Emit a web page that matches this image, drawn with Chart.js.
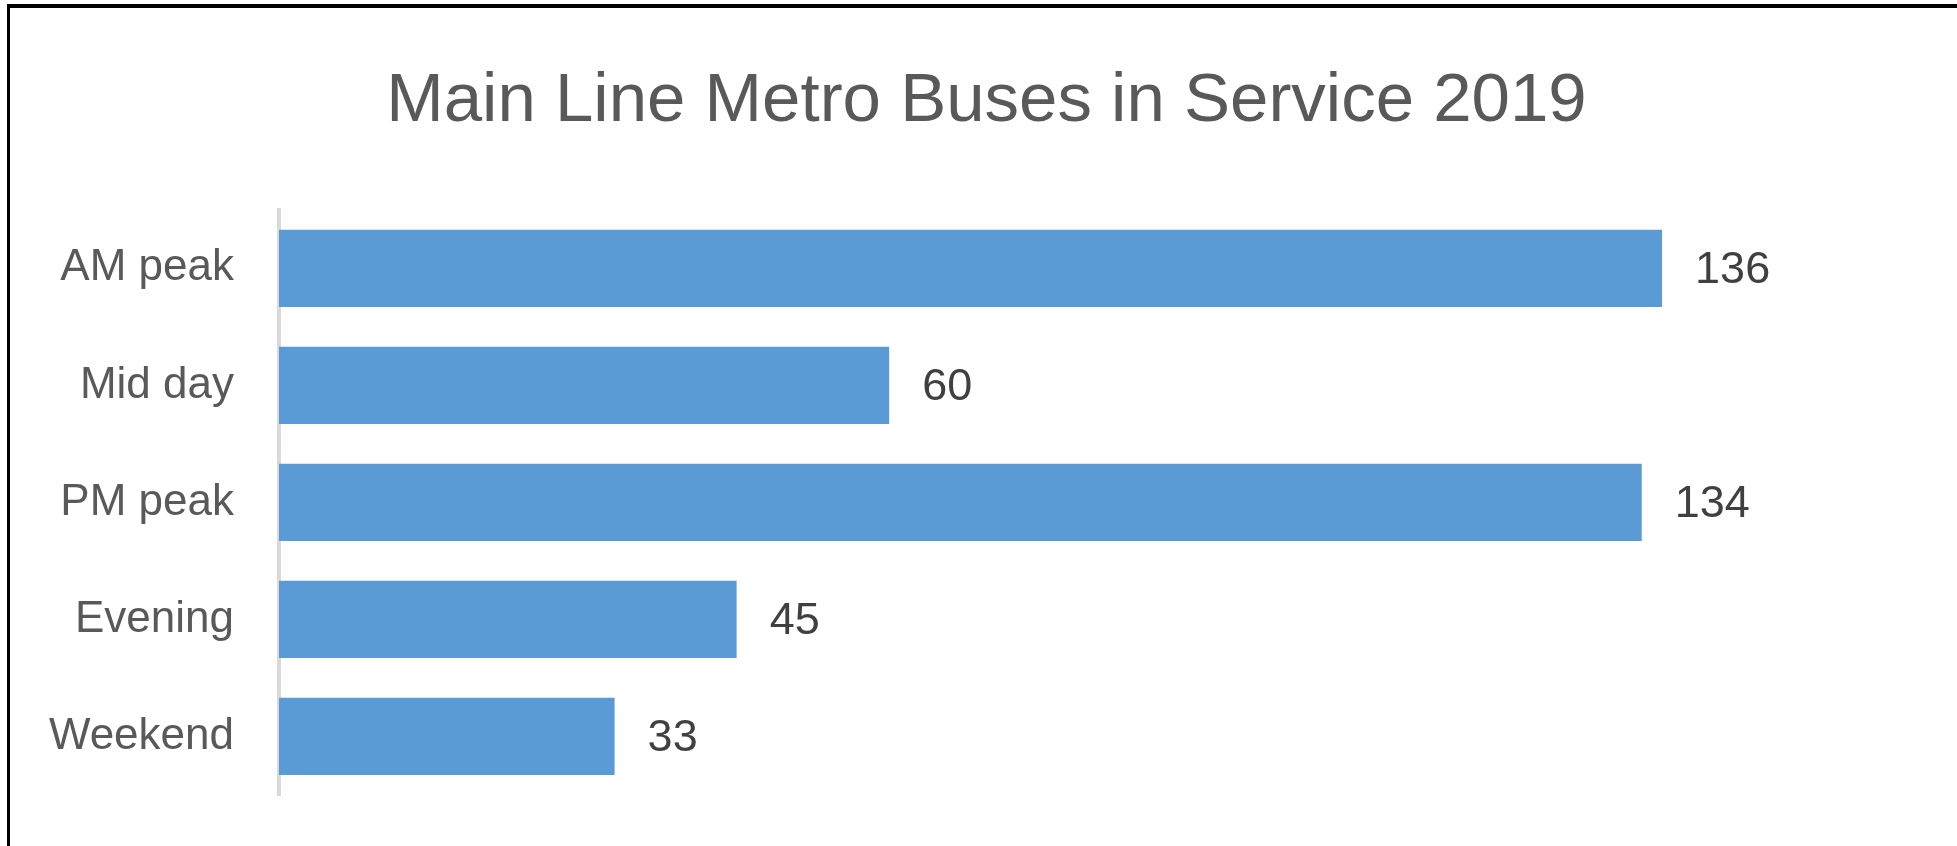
<!DOCTYPE html>
<html>
<head>
<meta charset="utf-8">
<script src="https://cdn.jsdelivr.net/npm/chart.js@4"></script>
<style>
  html, body { margin: 0; padding: 0; background: #fff; }
  #wrap { position: relative; width: 1957px; height: 846px; overflow: hidden; }
  #frame { position: absolute; left: 7px; top: 4px; right: -10px; bottom: -10px;
           border-top: 4px solid #000; border-left: 3px solid #000; }
  canvas { position: absolute; left: 0; top: 0; }
</style>
</head>
<body>
<div id="wrap">
  <div id="frame"></div>
  <canvas id="chart" width="1957" height="846"></canvas>
</div>
<script>
// values
const categories = ['AM peak', 'Mid day', 'PM peak', 'Evening', 'Weekend'];
const buses = [136, 60, 134, 45, 33];
const chartTitle = 'Main Line Metro Buses in Service 2019';

// writes the number just past the end of each bar
const valueLabels = {
  id: 'valueLabels',
  afterDatasetsDraw(chart) {
    const ctx = chart.ctx;
    const meta = chart.getDatasetMeta(0);
    ctx.save();
    ctx.font = '45px "Liberation Sans", Arial, sans-serif';
    ctx.fillStyle = '#404040';
    ctx.textAlign = 'left';
    ctx.textBaseline = 'middle';
    meta.data.forEach((bar, i) => {
      ctx.fillText(String(chart.data.datasets[0].data[i]), bar.x + 33, bar.y + 2);
    });
    ctx.restore();
  }
};

const ctx = document.getElementById('chart').getContext('2d');
new Chart(ctx, {
  type: 'bar',
  data: {
    labels: categories,
    datasets: [{
      label: 'Buses',
      data: buses,
      backgroundColor: '#5B9BD5',
      borderWidth: 0,
      barPercentage: 0.66,
      categoryPercentage: 1
    }]
  },
  options: {
    indexAxis: 'y',
    responsive: false,
    animation: false,
    layout: { padding: { top: 61, bottom: 51, left: 16, right: 0 } },
    plugins: {
      legend: { display: false },
      tooltip: { enabled: false },
      title: {
        display: true,
        text: chartTitle,
        color: '#595959',
        font: { family: '"Liberation Sans", Arial, sans-serif', size: 69, weight: 'normal', lineHeight: 1.2 },
        padding: { top: 0, bottom: 66 }
      }
    },
    scales: {
      x: {
        display: false,
        min: 0,
        max: 165
      },
      y: {
        afterFit(scale) {
          scale.width = 263;
          // tick padding would otherwise push the plot area in at top and bottom
          scale.paddingTop = 0;
          scale.paddingBottom = 0;
        },
        grid: { display: false, drawTicks: false, tickLength: 0 },
        border: { display: true, color: '#d9d9d9', width: 4 },
        ticks: {
          color: '#595959',
          padding: 45,
          font: { family: '"Liberation Sans", Arial, sans-serif', size: 44 }
        }
      }
    }
  },
  plugins: [valueLabels]
});
</script>
</body>
</html>
